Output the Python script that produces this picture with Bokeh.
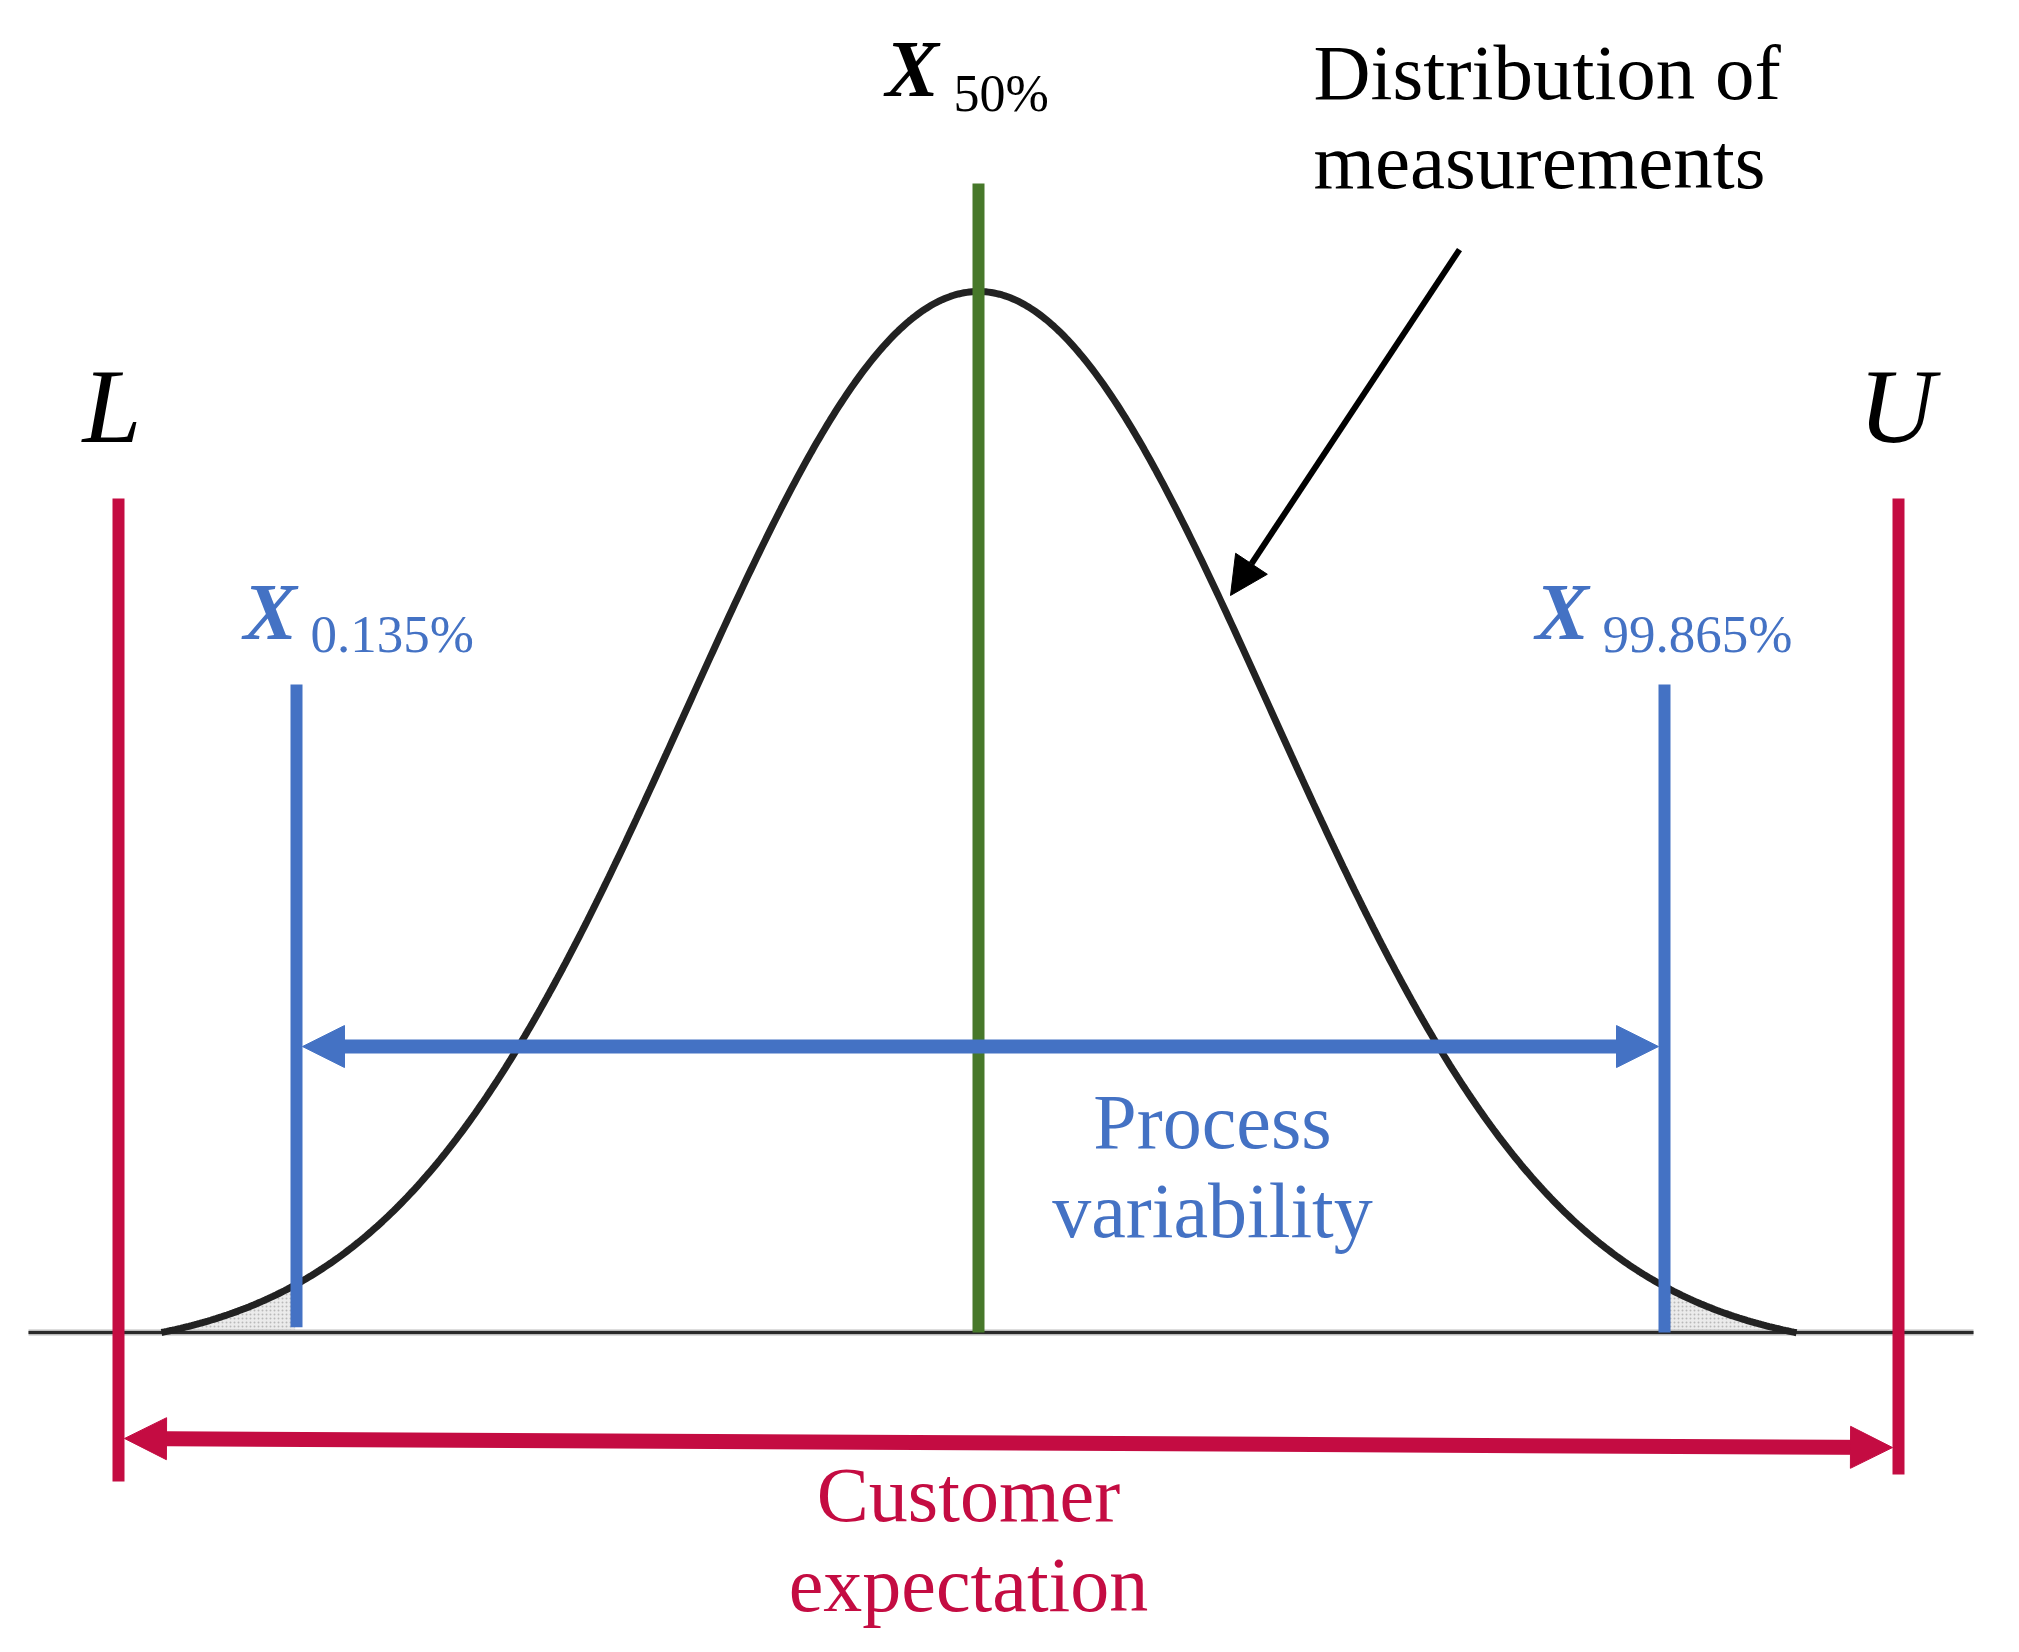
import numpy as np
from bokeh.plotting import figure
from bokeh.models import Range1d, Arrow, NormalHead
from bokeh.core.properties import value
from bokeh.embed import file_html
from bokeh.resources import INLINE

# ---- data (measurement scale, relative density) ----
mean = 50.0
sigma = 7.3
tails = [29.575, 70.45]          # where the drawn curve meets the baseline
axis_span = [26.25, 74.875]      # horizontal baseline extent
lower_spec = 28.5                # L
upper_spec = 73.0                # U
x_low = 32.95                    # X_0.135%
x_high = 67.15                   # X_99.865%
median_top = 1.1037
quantile_top = 0.6225
spec_top = 0.8012
spec_bottom = [-0.1431, -0.1364]
process_arrow_y = 0.2747
customer_arrow_y = [-0.1018, -0.1105]
pointer_from = [62.025, 1.0403]
pointer_to = [56.3, 0.708]

RED = "#C40C42"
BLUE = "#4472C4"
GREEN = "#47782A"
FONT = "Liberation Serif"

x = np.linspace(tails[0], tails[1], 600)
g = np.exp(-0.5 * ((x - mean) / sigma) ** 2)
g_end = np.exp(-0.5 * ((tails[0] - mean) / sigma) ** 2)
dens = (g - g_end) / (1 - g_end)

SHIFT_X = 8 / 40.0
SHIFT_Y = 8 / 1041.0
p = figure(width=2003, height=1636, output_backend="svg", toolbar_location=None,
           x_range=Range1d(25.75 - SHIFT_X, 75.825 - SHIFT_X),
           y_range=Range1d(-0.29971 + SHIFT_Y, 1.27185 + SHIFT_Y),
           x_axis_type=None, y_axis_type=None, min_border=0)
p.grid.visible = False
p.outline_line_color = None
p.background_fill_color = "white"
p.border_fill_color = "white"

# shaded tails
lm = x <= x_low
rm = x >= x_high
p.varea(x=x[lm], y1=np.zeros(lm.sum()), y2=dens[lm], fill_color="#dddddd", fill_alpha=0.6,
        hatch_pattern="dot", hatch_color="#888888", hatch_alpha=0.5, hatch_scale=4)
p.varea(x=x[rm], y1=np.zeros(rm.sum()), y2=dens[rm], fill_color="#dddddd", fill_alpha=0.6,
        hatch_pattern="dot", hatch_color="#888888", hatch_alpha=0.5, hatch_scale=4)

# baseline
p.line(axis_span, [0, 0], line_color="#bbbbbb", line_width=6)
p.line(axis_span, [0, 0], line_color="#2a2a2a", line_width=3)

# curve
p.line(x, dens, line_color="#222222", line_width=7)

# median
p.segment(x0=[mean], y0=[0], x1=[mean], y1=[median_top], line_color=GREEN, line_width=12)

# quantile lines
p.segment(x0=[x_low, x_high], y0=[0.005, 0.0], x1=[x_low, x_high], y1=[quantile_top, quantile_top],
          line_color=BLUE, line_width=12)

# spec lines
p.segment(x0=[lower_spec, upper_spec], y0=spec_bottom, x1=[lower_spec, upper_spec],
          y1=[spec_top, spec_top], line_color=RED, line_width=12)

# arrows
p.add_layout(Arrow(x_start=x_low + 0.15, y_start=process_arrow_y, x_end=x_high - 0.15, y_end=process_arrow_y,
                   line_color=BLUE, line_width=14,
                   start=NormalHead(size=42, fill_color=BLUE, line_color=BLUE, line_width=1),
                   end=NormalHead(size=42, fill_color=BLUE, line_color=BLUE, line_width=1)))
p.add_layout(Arrow(x_start=lower_spec + 0.15, y_start=customer_arrow_y[0], x_end=upper_spec - 0.15,
                   y_end=customer_arrow_y[1], line_color=RED, line_width=15,
                   start=NormalHead(size=42, fill_color=RED, line_color=RED, line_width=1),
                   end=NormalHead(size=42, fill_color=RED, line_color=RED, line_width=1)))
p.add_layout(Arrow(x_start=pointer_from[0], y_start=pointer_from[1], x_end=pointer_to[0], y_end=pointer_to[1],
                   line_color="black", line_width=6,
                   end=NormalHead(size=38, fill_color="black", line_color="black", line_width=1)))


def X(px):
    return 50 + (px - 978) / 40.0


def TY(px, size):
    # text baseline position, compensating the renderer's baseline offset
    return (1332 - (px - 0.36 * size)) / 1041.0


def txt(xpx, ypx, texts, size, color="black", align="left", style="normal"):
    p.text(x=[X(v) for v in xpx], y=[TY(v, size) for v in ypx], text=texts,
           text_font=value(FONT), text_font_size=f"{size}px",
           text_color=color, text_align=align, text_baseline="alphabetic", text_font_style=style)


txt([1313, 1313], [100, 189], ["Distribution of", "measurements"], 79)
txt([1212, 1212], [1149, 1238], ["Process", "variability"], 78, BLUE, "center")
txt([968, 968], [1522, 1612], ["Customer", "expectation"], 78, RED, "center")

txt([82], [444], ["L"], 106, style="italic")
txt([1858], [444], ["U"], 106, style="italic")

txt([885], [97], ["X"], 80, style="bold italic")
txt([953], [112], ["50%"], 52)

txt([243], [640], ["X"], 80, BLUE, style="bold italic")
txt([310], [653], ["0.135%"], 53, BLUE)

txt([1535], [640], ["X"], 80, BLUE, style="bold italic")
txt([1602], [653], ["99.865%"], 53, BLUE)

open("out.html", "w").write(file_html(p, INLINE))
